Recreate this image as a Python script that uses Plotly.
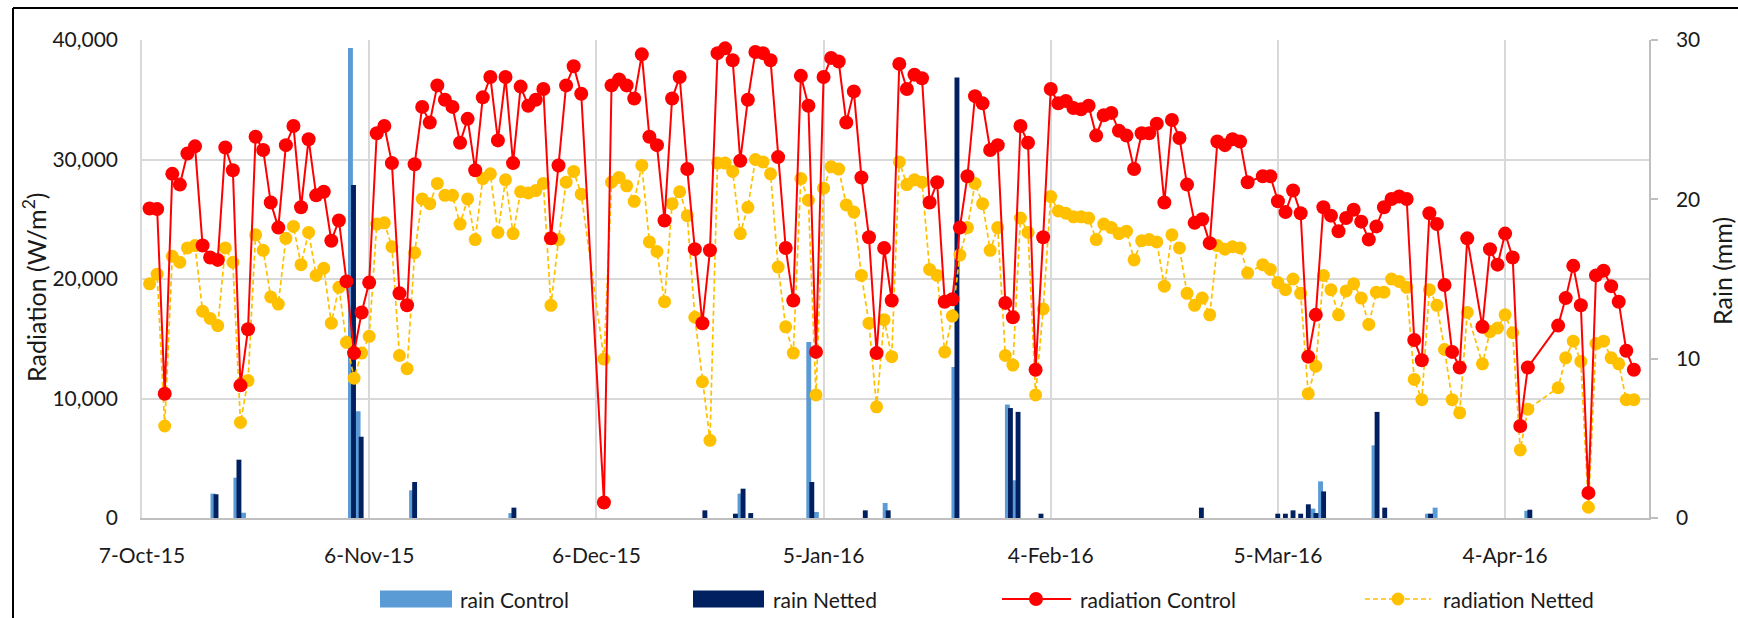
import pandas as pd
import plotly.graph_objects as go

# ---------------- data ----------------
rad_dates = pd.date_range("2015-10-08", "2016-04-21", freq="D")

rad_control = [
    25900, 25850, 10400, 28800, 27900, 30500, 31100, 22800, 21800, 21600,
    31000, 29100, 11100, 15800, 31900, 30800, 26400, 24300, 31200, 32800,
    26000, 31700, 27000, 27300, 23200, 24900, 19800, 13800, 17200, 19700,
    32200, 32800, 29700, 18800, 17800, 29600, 34400, 33100, 36200, 35000,
    34400, 31400, 33400, 29100, 35200, 36900, 31600, 36900, 29700, 36100,
    34500, 35000, 35900, 23400, 29500, 36200, 37800, 35500, None, None,
    1300, 36200, 36700, 36200, 35100, 38800, 31900, 31200, 24900, 35100,
    36900, 29200, 22500, 16300, 22400, 38900, 39300, 38300, 29900, 35000,
    39000, 38900, 38300, 30200, 22600, 18200, 37000, 34500, 13900, 36900,
    38500, 38200, 33100, 35700, 28500, 23500, 13800, 22600, 18200, 38000,
    35900, 37100, 36800, 26400, 28100, 18100, 18300, 24300, 28600, 35300,
    34700, 30800, 31200, 18000, 16800, 32800, 31400, 12400, 23500, 35900,
    34700, 34900, 34300, 34200, 34500, 32000, 33700, 33900, 32400, 32000,
    29200, 32200, 32200, 33000, 26400, 33300, 31800, 27900, 24700, 25000,
    23000, 31500, 31200, 31700, 31500, 28100, None, 28600, 28600, 26500,
    25600, 27400, 25500, 13500, 17000, 26000, 25300, 24000, 25100, 25800,
    24800, 23300, 24400, 26000, 26700, 26900, 26700, 14900, 13200, 25500,
    24600, 19500, 13900, 12600, 23400, None, 16000, 22500, 21200, 23800,
    21800, 7700, 12600, None, None, None, 16100, 18400, 21100, 17800,
    2100, 20300, 20700, 19400, 18100, 14000, 12400,
]

rad_netted = [
    19600, 20400, 7700, 21900, 21400, 22600, 22800, 17300, 16700, 16100,
    22600, 21400, 8000, 11500, 23700, 22400, 18500, 17900, 23400, 24400,
    21200, 23900, 20300, 20900, 16300, 19300, 14700, 11700, 13800, 15200,
    24600, 24700, 22700, 13600, 12500, 22200, 26700, 26300, 28000, 27000,
    27000, 24600, 26700, 23300, 28400, 28800, 23900, 28300, 23800, 27300,
    27200, 27400, 28000, 17800, 23300, 28100, 29000, 27100, None, None,
    13300, 28100, 28500, 27800, 26500, 29500, 23100, 22300, 18100, 26300,
    27300, 25300, 16800, 11400, 6500, 29700, 29700, 29000, 23800, 26000,
    30000, 29800, 28800, 21000, 16000, 13800, 28400, 26600, 10300, 27600,
    29400, 29200, 26200, 25600, 20300, 16300, 9300, 16600, 13500, 29800,
    27900, 28300, 28100, 20800, 20300, 13900, 16900, 22000, 24300, 28000,
    26300, 22400, 24300, 13600, 12800, 25100, 23900, 10300, 17500, 26900,
    25700, 25500, 25200, 25200, 25100, 23300, 24600, 24300, 23800, 24000,
    21600, 23200, 23300, 23100, 19400, 23700, 22600, 18800, 17800, 18400,
    17000, 22800, 22500, 22700, 22600, 20500, None, 21200, 20800, 19700,
    19100, 20000, 18800, 10400, 12700, 20300, 19100, 17000, 19000, 19600,
    18400, 16200, 18900, 18900, 20000, 19800, 19300, 11600, 9900, 19100,
    17800, 14100, 9900, 8800, 17200, None, 12900, 15600, 15900, 17000,
    15500, 5700, 9100, None, None, None, 10900, 13400, 14800, 13100,
    900, 14600, 14800, 13400, 12900, 9900, 9900,
]

rain_dates = [
    "2015-10-17", "2015-10-20", "2015-10-21", "2015-11-04", "2015-11-05",
    "2015-11-12", "2015-11-25", "2015-12-20", "2015-12-24", "2015-12-25",
    "2015-12-26", "2016-01-03", "2016-01-04", "2016-01-10", "2016-01-13",
    "2016-01-22", "2016-01-29", "2016-01-30", "2016-02-02", "2016-02-23",
    "2016-03-04", "2016-03-05", "2016-03-06", "2016-03-07", "2016-03-08",
    "2016-03-09", "2016-03-10", "2016-03-17", "2016-03-18", "2016-03-24",
    "2016-03-25", "2016-04-06",
]
rain_control = [
    1.53, 2.53, 0.33, 29.5, 6.7, 1.74, 0.31, 0, 0, 1.53,
    0, 11.05, 0.38, 0, 0.94, 9.48, 7.12, 2.37, 0, 0,
    0, 0, 0, 0, 0, 0.59, 2.3, 4.56, 0, 0.27,
    0.65, 0.45,
]
rain_netted = [
    1.49, 3.66, 0, 20.9, 5.1, 2.26, 0.65, 0.48, 0.27, 1.84,
    0.31, 2.26, 0, 0.48, 0.48, 27.65, 6.9, 6.66, 0.27, 0.65,
    0.27, 0.27, 0.48, 0.27, 0.86, 0.31, 1.67, 6.66, 0.65, 0.27,
    0, 0.52,
]

x_tick_dates = ["2015-10-07", "2015-11-06", "2015-12-06", "2016-01-05",
                "2016-02-04", "2016-03-05", "2016-04-04"]
x_tick_labels = ["7-Oct-15", "6-Nov-15", "6-Dec-15", "5-Jan-16",
                 "4-Feb-16", "5-Mar-16", "4-Apr-16"]
rad_ticks = [0, 10000, 20000, 30000, 40000]
rain_ticks = [0, 10, 20, 30]

# ---------------- layout geometry ----------------
W, H = 1738, 618
L, R, T, B = 142, 89, 40, 100
PW, PH = W - L - R, H - T - B


def xp(px):
    return (px - L) / PW


def yp(py):
    return (H - B - py) / PH


FONT = "Lato, 'Open Sans', sans-serif"
TXT = "#1a1a1a"
GRID = "#d9d9d9"
AXL = "#bfbfbf"
C_RED = "#ff0000"
C_YEL = "#ffc000"
C_LB = "#5b9bd5"
C_DB = "#002060"

DAY_MS = 86400000
base = pd.Timestamp("2015-10-07")

fig = go.Figure()

# rain bars (main subplot, drawn beneath lines)
fig.add_trace(go.Bar(
    x=pd.to_datetime(rain_dates), y=rain_control, name="rain Control",
    marker=dict(color=C_LB, line=dict(width=0)),
    width=0.64 * DAY_MS, offset=-0.52 * DAY_MS,
    xaxis="x", yaxis="y", showlegend=False,
))
fig.add_trace(go.Bar(
    x=pd.to_datetime(rain_dates), y=rain_netted, name="rain Netted",
    marker=dict(color=C_DB, line=dict(width=0)),
    width=0.64 * DAY_MS, offset=-0.12 * DAY_MS,
    xaxis="x", yaxis="y", showlegend=False,
))

# radiation lines (overlay subplot)
fig.add_trace(go.Scatter(
    x=rad_dates, y=rad_netted, name="radiation Netted", mode="lines+markers",
    connectgaps=True,
    line=dict(color=C_YEL, width=1.7, dash="5px,3px"),
    marker=dict(color=C_YEL, size=13),
    xaxis="x2", yaxis="y2", showlegend=False,
))
fig.add_trace(go.Scatter(
    x=rad_dates, y=rad_control, name="radiation Control", mode="lines+markers",
    connectgaps=True,
    line=dict(color=C_RED, width=2),
    marker=dict(color=C_RED, size=14),
    xaxis="x2", yaxis="y2", showlegend=False,
))

tickfont = dict(family=FONT, size=21, color=TXT)

fig.update_layout(
    width=W, height=H,
    margin=dict(l=L, r=R, t=T, b=B, pad=0),
    paper_bgcolor="white", plot_bgcolor="white",
    barmode="overlay",
    showlegend=False,
    font=dict(family=FONT, color=TXT),
    xaxis=dict(
        type="date",
        range=[base + pd.Timedelta(days=0.51), base + pd.Timedelta(days=197.8)],
        visible=False, showgrid=False, zeroline=False,
    ),
    yaxis=dict(
        range=[0, 30], side="right", anchor="x",
        tickvals=rain_ticks, ticktext=[str(v) for v in rain_ticks],
        showgrid=False, zeroline=False,
        showline=True, linecolor=AXL, linewidth=1.5,
        ticks="outside", ticklen=7, tickwidth=1.5, tickcolor=AXL,
        ticklabelstandoff=14, tickfont=tickfont,
    ),
    xaxis2=dict(
        type="date", overlaying="x", anchor="y2", side="bottom",
        range=["2015-10-07", "2016-04-23"],
        tickvals=x_tick_dates, ticktext=x_tick_labels,
        showgrid=True, gridcolor=GRID, gridwidth=1.5,
        showline=True, linecolor=AXL, linewidth=2,
        zeroline=False, ticks="", ticklabelstandoff=18,
        tickfont=tickfont,
    ),
    yaxis2=dict(
        range=[0, 40000], overlaying="y", anchor="x2", side="left",
        tickvals=rad_ticks, tickformat=",d",
        showgrid=True, gridcolor=GRID, gridwidth=1.5,
        showline=True, linecolor=GRID, linewidth=1.5,
        zeroline=False, ticks="", ticklabelstandoff=18,
        tickfont=tickfont,
    ),
)

annotations = [
    dict(text="Radiation (W/m<sup>2</sup>)", x=xp(34), y=yp(287),
         xanchor="center", yanchor="middle",
         textangle=-90, font=dict(family=FONT, size=25, color=TXT)),
    dict(text="Rain (mm)", x=xp(1722), y=yp(271),
         xanchor="center", yanchor="middle",
         textangle=-90, font=dict(family=FONT, size=25, color=TXT)),
]
legend_items = [
    ("rain Control", 458),
    ("rain Netted", 770.5),
    ("radiation Control", 1077.6),
    ("radiation Netted", 1441.4),
]
for txt, px in legend_items:
    annotations.append(dict(text=txt, x=xp(px), y=yp(599), xanchor="left",
                            yanchor="middle",
                            font=dict(family=FONT, size=21, color=TXT)))
for a in annotations:
    a.setdefault("xref", "paper")
    a.setdefault("yref", "paper")
    a.setdefault("showarrow", False)
fig.update_layout(annotations=annotations)

shapes = [
    # chart frame (top and left edges visible in crop)
    dict(type="line", x0=xp(13), x1=xp(W + 5), y0=yp(8), y1=yp(8),
         line=dict(color="black", width=2)),
    dict(type="line", x0=xp(13), x1=xp(13), y0=yp(8), y1=yp(H + 5),
         line=dict(color="black", width=2)),
    # legend swatches
    dict(type="rect", x0=xp(380), x1=xp(452), y0=yp(590.5), y1=yp(607.5),
         fillcolor=C_LB, line=dict(width=0)),
    dict(type="rect", x0=xp(693), x1=xp(764), y0=yp(590.5), y1=yp(607.5),
         fillcolor=C_DB, line=dict(width=0)),
    dict(type="line", x0=xp(1002), x1=xp(1071), y0=yp(599), y1=yp(599),
         line=dict(color=C_RED, width=2)),
    dict(type="circle", x0=xp(1029), x1=xp(1043), y0=yp(592), y1=yp(606),
         fillcolor=C_RED, line=dict(width=0)),
    dict(type="line", x0=xp(1365), x1=xp(1431), y0=yp(599), y1=yp(599),
         line=dict(color=C_YEL, width=1.7, dash="5px,3px")),
    dict(type="circle", x0=xp(1391.5), x1=xp(1404.5), y0=yp(592.5), y1=yp(605.5),
         fillcolor=C_YEL, line=dict(width=0)),
]
for s in shapes:
    s["xref"] = "paper"
    s["yref"] = "paper"
fig.update_layout(shapes=shapes)

fig.write_html("out.html")
